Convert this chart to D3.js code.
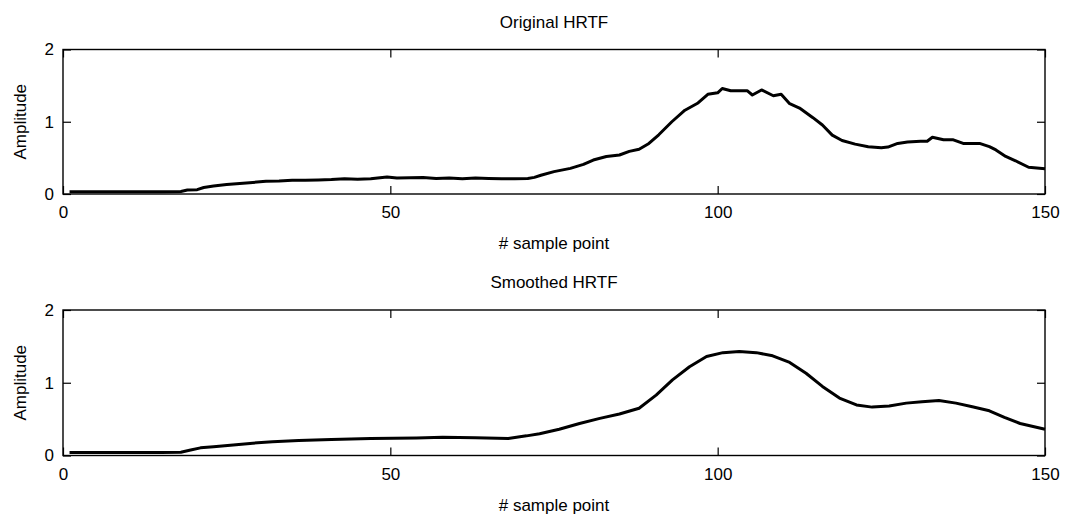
<!DOCTYPE html>
<html lang="en">
<head>
<meta charset="UTF-8">
<title>HRTF</title>
<script src="https://d3js.org/d3.v7.min.js"></script>
<style>
  body { margin: 0; background: #fff; }
  text { font-family: "Liberation Sans", Arial, sans-serif; fill: #000; }
</style>
</head>
<body>
<div id="chart"></div>
<script>
// sample index -> amplitude
const origSample = [1, 5, 10, 15, 18, 19, 20.5, 21.5, 23, 25, 27, 29, 31, 33, 35, 37, 39, 41, 43, 45, 47, 49.5, 51, 53, 55, 57, 59, 61, 63, 65, 67, 69, 71, 72, 73, 75, 77.5, 79.5, 81, 83, 85, 86.5, 88, 89.5, 91, 93, 95, 97, 98.5, 100, 100.7, 102, 104.5, 105.3, 106.7, 108.5, 109.7, 111, 112.5, 114.5, 116, 117.5, 119, 121, 123, 125, 126, 127.5, 129, 131, 132, 132.8, 134.5, 136, 137.5, 140, 141.5, 142.5, 144, 145.5, 147.5, 150];
const origAmp = [0.03, 0.03, 0.03, 0.03, 0.035, 0.055, 0.06, 0.09, 0.11, 0.13, 0.145, 0.16, 0.175, 0.18, 0.19, 0.19, 0.195, 0.2, 0.21, 0.205, 0.21, 0.235, 0.22, 0.225, 0.23, 0.215, 0.22, 0.21, 0.22, 0.215, 0.21, 0.21, 0.215, 0.23, 0.26, 0.31, 0.355, 0.41, 0.47, 0.52, 0.54, 0.59, 0.62, 0.7, 0.82, 1.0, 1.16, 1.26, 1.38, 1.4, 1.46, 1.43, 1.43, 1.37, 1.44, 1.36, 1.38, 1.25, 1.19, 1.06, 0.955, 0.815, 0.74, 0.69, 0.655, 0.64, 0.65, 0.7, 0.72, 0.73, 0.73, 0.785, 0.75, 0.75, 0.7, 0.7, 0.655, 0.61, 0.52, 0.46, 0.37, 0.35];

const smoothSample = [1, 5, 10, 15, 18, 19.5, 21, 23, 26, 29, 32, 36, 41, 47, 54, 58, 63, 68, 70.8, 72.8, 75.8, 78.9, 82, 85, 88, 90.6, 93.1, 95.7, 98.3, 100.8, 103.3, 105.9, 108.4, 111, 113.5, 116, 118.6, 121.2, 123.6, 126.2, 128.8, 131.2, 133.8, 136.4, 138.9, 141.5, 143.8, 146.2, 150];
const smoothAmp = [0.04, 0.04, 0.04, 0.04, 0.045, 0.075, 0.105, 0.12, 0.145, 0.17, 0.19, 0.205, 0.22, 0.235, 0.24, 0.25, 0.245, 0.235, 0.27, 0.3, 0.36, 0.44, 0.51, 0.57, 0.65, 0.83, 1.04, 1.22, 1.36, 1.414, 1.43, 1.414, 1.37, 1.28, 1.13, 0.95, 0.79, 0.695, 0.665, 0.68, 0.72, 0.74, 0.755, 0.72, 0.67, 0.615, 0.525, 0.44, 0.36];

const xTicks = [0, 50, 100, 150];
const yTicks = [0, 1, 2];

const W = 1068, H = 527;
const left = 63, right = 1045;

const svg = d3.select("#chart").append("svg")
    .attr("width", W)
    .attr("height", H);

const x = d3.scaleLinear().domain([0, 150]).range([left, right]);

function drawPanel(top, bottom, title, xs, ys) {
    const y = d3.scaleLinear().domain([0, 2]).range([bottom, top]);
    const g = svg.append("g");
    const tickLen = 8;

    // ticks, inward on all four sides
    g.append("g").attr("transform", "translate(0," + bottom + ")")
        .call(d3.axisBottom(x).tickValues(xTicks).tickSize(-tickLen).tickPadding(12).tickFormat(d3.format("d")));
    g.append("g").attr("transform", "translate(0," + top + ")")
        .call(d3.axisTop(x).tickValues(xTicks).tickSize(-tickLen).tickFormat(""));
    g.append("g").attr("transform", "translate(" + left + ",0)")
        .call(d3.axisLeft(y).tickValues(yTicks).tickSize(-tickLen).tickPadding(9).tickFormat(d3.format("d")));
    g.append("g").attr("transform", "translate(" + right + ",0)")
        .call(d3.axisRight(y).tickValues(yTicks).tickSize(-tickLen).tickFormat(""));

    g.selectAll(".domain").remove();
    g.selectAll(".tick line").attr("stroke", "#000").attr("stroke-width", 1.2);
    g.selectAll(".tick text").style("font-size", "17px").attr("fill", "#000");

    g.append("rect")
        .attr("x", left).attr("y", top)
        .attr("width", right - left).attr("height", bottom - top)
        .attr("fill", "none").attr("stroke", "#000").attr("stroke-width", 1.4);

    const line = d3.line()
        .x((d, i) => x(xs[i]))
        .y((d, i) => y(ys[i]));

    g.append("path")
        .datum(xs)
        .attr("d", line)
        .attr("fill", "none")
        .attr("stroke", "#000")
        .attr("stroke-width", 3)
        .attr("stroke-linejoin", "round");

    g.append("text")
        .attr("x", (left + right) / 2).attr("y", top - 22)
        .attr("text-anchor", "middle")
        .style("font-size", "17px")
        .text(title);

    g.append("text")
        .attr("x", (left + right) / 2).attr("y", bottom + 55)
        .attr("text-anchor", "middle")
        .style("font-size", "17px")
        .text("# sample point");

    g.append("text")
        .attr("transform", "translate(26," + (top + bottom) / 2 + ") rotate(-90)")
        .attr("text-anchor", "middle")
        .style("font-size", "17px")
        .text("Amplitude");
}

drawPanel(49.5, 194, "Original HRTF", origSample, origAmp);
drawPanel(310, 455.5, "Smoothed HRTF", smoothSample, smoothAmp);
</script>
</body>
</html>
